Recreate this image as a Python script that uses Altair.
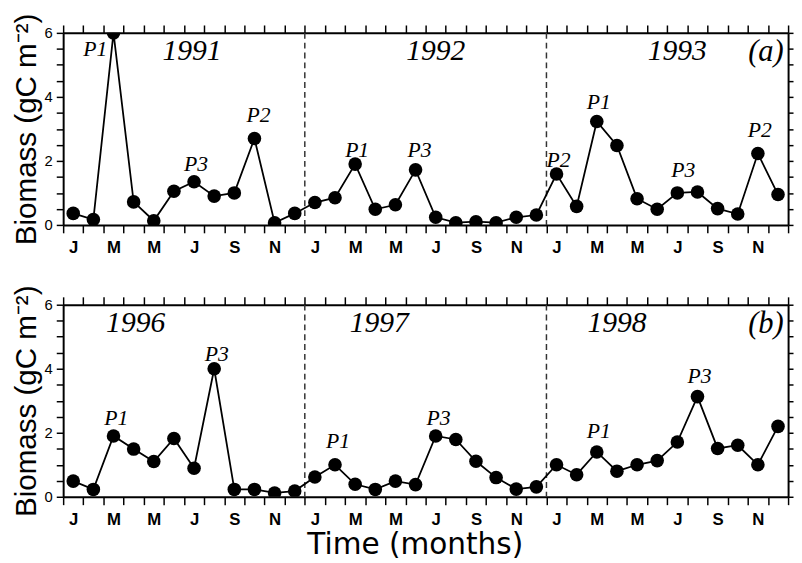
import altair as alt
import pandas as pd

# ---------------- data ----------------
month_letters = ["J", "F", "M", "A", "M", "J", "J", "A", "S", "O", "N", "D"]

biomass_a = [0.36, 0.17, 6.0, 0.72, 0.13, 1.05, 1.35, 0.90, 1.00, 2.70, 0.07, 0.36,
             0.70, 0.85, 1.90, 0.49, 0.63, 1.72, 0.24, 0.07, 0.10, 0.07, 0.24, 0.31,
             1.59, 0.58, 3.23, 2.48, 0.82, 0.49, 1.00, 1.03, 0.51, 0.34, 2.23, 0.95]
biomass_b = [0.49, 0.23, 1.90, 1.49, 1.10, 1.82, 0.89, 4.00, 0.23, 0.23, 0.12, 0.18,
             0.62, 1.00, 0.39, 0.23, 0.49, 0.38, 1.90, 1.79, 1.11, 0.60, 0.24, 0.31,
             1.00, 0.69, 1.40, 0.80, 1.00, 1.13, 1.71, 3.13, 1.51, 1.61, 1.00, 2.20]

year_breaks = [12, 24]

years_a = ["1991", "1992", "1993"]
years_a_x = [6.4, 18.5, 30.5]
years_b = ["1996", "1997", "1998"]
years_b_x = [3.6, 15.7, 27.5]
years_y = [5.42, 5.42, 5.42]

tag_a = ["(a)"]
tag_b = ["(b)"]
tag_x = [34.9]
tag_y = [5.4]

peaks_a = ["P1", "P3", "P2", "P1", "P3", "P2", "P1", "P3", "P2"]
peaks_a_x = [1.6, 6.6, 9.7, 14.6, 17.7, 24.6, 26.6, 30.8, 34.6]
peaks_a_y = [5.48, 1.89, 3.42, 2.35, 2.35, 2.04, 3.85, 1.70, 2.97]

peaks_b = ["P1", "P3", "P1", "P3", "P1", "P3"]
peaks_b_x = [2.64, 7.63, 13.65, 18.64, 26.6, 31.6]
peaks_b_y = [2.47, 4.47, 1.73, 2.47, 2.04, 3.76]

x_tick_values = [i * 0.5 for i in range(73)]
x_top_values = list(range(37))
y_tick_values = [i * 0.5 for i in range(13)]

X_DOM = [0, 36]
Y_DOM = [0, 6]

letters_js = "[" + ",".join("'%s'" % m for m in month_letters) + "]"


def panel(values, years, years_x, tag, peaks, peaks_x, peaks_y, show_xtitle):
    df = pd.DataFrame({"pos": [i + 0.5 for i in range(len(values))], "val": values})
    xs = alt.Scale(domain=X_DOM, nice=False, zero=False)
    ys = alt.Scale(domain=Y_DOM, nice=False, zero=False)

    bottom_axis = alt.Axis(
        orient="bottom", values=x_tick_values, grid=False,
        labelExpr="(datum.value % 1 == 0.5 && floor(datum.value) % 2 == 0) ? "
                  + letters_js + "[floor(datum.value) % 12] : ''",
        labelOverlap=False, labelFlush=False, labelBound=False,
        tickOpacity={"condition": {"test": "datum.value % 1 == 0", "value": 1}, "value": 0},
        tickSize=8, labelPadding=7,
        labelFont="Liberation Sans", labelFontSize=17, labelFontWeight="bold",
        title="Time (months)" if show_xtitle else None,
        titleFont="DejaVu Sans", titleFontSize=30, titleFontWeight="normal",
        titlePadding=3, titleX=357,
    )
    left_axis = alt.Axis(
        orient="left", values=y_tick_values, grid=False,
        labelExpr="datum.value % 2 == 0 ? format(datum.value, 'd') : ''",
        labelOverlap=False, labelFlush=False, tickSize=7, labelPadding=4,
        labelFont="Liberation Sans", labelFontSize=15,
        title="Biomass (gC m⁻²)", titleFont="Liberation Sans", titleFontSize=30,
        titleFontWeight="normal", titlePadding=3,
    )
    top_axis = alt.Axis(orient="top", values=x_top_values, labels=False, grid=False,
                        tickSize=8, title=None)
    right_axis = alt.Axis(orient="right", values=y_tick_values, labels=False, grid=False,
                          tickSize=5, title=None)

    rules = alt.Chart(pd.DataFrame({"b": year_breaks})).mark_rule(
        color="#333333", strokeDash=[6, 4], strokeWidth=1.5
    ).encode(x=alt.X("b:Q", scale=xs, axis=None))

    line = alt.Chart(df).mark_line(color="black", strokeWidth=1.8, clip=True).encode(
        x=alt.X("pos:Q", scale=xs, axis=bottom_axis),
        y=alt.Y("val:Q", scale=ys, axis=left_axis),
    )
    pts = alt.Chart(df).mark_circle(color="black", opacity=1, size=190, clip=True).encode(
        x=alt.X("pos:Q", scale=xs, axis=top_axis),
        y=alt.Y("val:Q", scale=ys, axis=right_axis),
    )

    ydf = pd.DataFrame({"x": years_x, "y": years_y, "t": years})
    year_txt = alt.Chart(ydf).mark_text(
        font="Liberation Serif", fontStyle="italic", fontSize=30, color="black",
        align="center", baseline="middle"
    ).encode(x=alt.X("x:Q", scale=xs, axis=None), y=alt.Y("y:Q", scale=ys, axis=None),
             text="t:N")

    tdf = pd.DataFrame({"x": tag_x, "y": tag_y, "t": tag})
    tag_txt = alt.Chart(tdf).mark_text(
        font="Liberation Serif", fontStyle="italic", fontSize=31, color="black",
        align="center", baseline="middle"
    ).encode(x=alt.X("x:Q", scale=xs, axis=None), y=alt.Y("y:Q", scale=ys, axis=None),
             text="t:N")

    pdf = pd.DataFrame({"x": peaks_x, "y": peaks_y, "t": peaks})
    peak_txt = alt.Chart(pdf).mark_text(
        font="Liberation Serif", fontStyle="italic", fontSize=22, color="black",
        align="center", baseline="middle"
    ).encode(x=alt.X("x:Q", scale=xs, axis=None), y=alt.Y("y:Q", scale=ys, axis=None),
             text="t:N")

    return alt.layer(rules, line, pts, year_txt, tag_txt, peak_txt).resolve_axis(
        x="independent", y="independent"
    ).properties(width=736, height=195)


top = panel(biomass_a, years_a, years_a_x, tag_a, peaks_a, peaks_a_x, peaks_a_y, False)
bottom = panel(biomass_b, years_b, years_b_x, tag_b, peaks_b, peaks_b_x, peaks_b_y, True)

chart = alt.vconcat(top, bottom, spacing=81, bounds="flush").properties(
    padding={"left": 3, "top": 0, "right": 0, "bottom": 0}
).configure_view(stroke=None).configure_axis(
    domainColor="black", domainWidth=2, tickColor="black", tickWidth=1.5,
    labelColor="black", titleColor="black"
)

chart.save("out.html", embed_options={"renderer": "svg", "actions": False})
